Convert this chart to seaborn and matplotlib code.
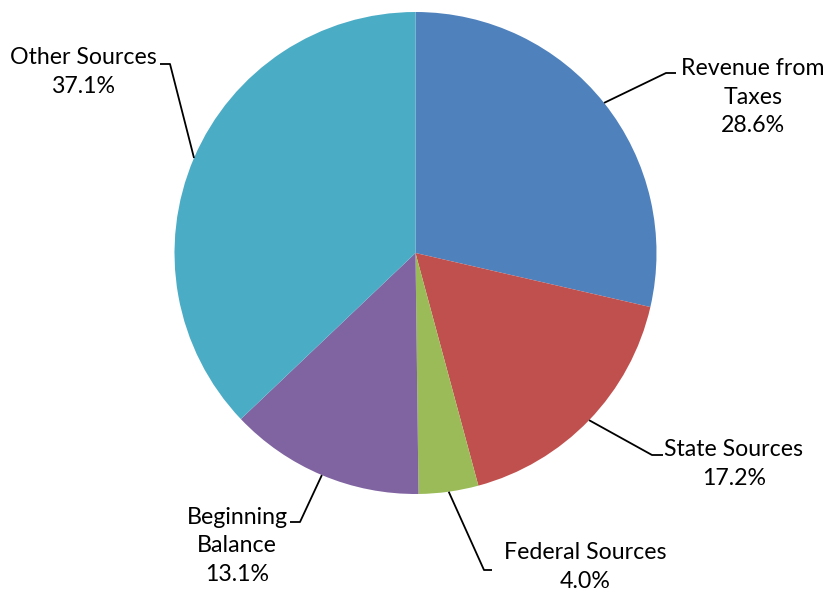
import numpy as np
import matplotlib
matplotlib.use("Agg")
import matplotlib.pyplot as plt
import seaborn as sns

# Revenue sources (percent of total)
categories = ["Revenue from\nTaxes", "State Sources", "Federal Sources",
              "Beginning\nBalance", "Other Sources"]
shares = [28.6, 17.2, 4.0, 13.1, 37.1]
colors = ["#4F81BD", "#C0504D", "#9BBB59", "#8064A2", "#4BACC6"]

sns.set_theme(style="white")
plt.rcParams["font.family"] = ["Lato", "DejaVu Sans"]

W, H = 824, 592
fig = plt.figure(figsize=(W / 100, H / 100), dpi=100)
ax = fig.add_axes([0, 0, 1, 1])

cx, cy, R = 415.5, H - 253, 241
wedges, _ = ax.pie(shares, colors=colors, startangle=90, counterclock=False,
                   center=(cx, cy), radius=R, frame=True,
                   wedgeprops=dict(linewidth=0))
ax.set_xlim(0, W)
ax.set_ylim(0, H)
ax.set_aspect("equal")
ax.axis("off")

# label placement: (elbow point, end of horizontal tick, text centre)
layout = [
    ((666, 73), (676, 73), (753, 97)),
    ((652, 455), (663, 455), (734, 464)),
    ((484, 570), (492, 570), (585, 567)),
    ((300, 522), (290, 522), (237, 546)),
    ((170, 64), (160, 64), (83, 72)),
]

for w, lab, val, (elbow, end, txt) in zip(wedges, categories, shares, layout):
    mid = np.deg2rad((w.theta1 + w.theta2) / 2)
    x0, y0 = cx + R * np.cos(mid), cy + R * np.sin(mid)
    xs = [x0, elbow[0], end[0]]
    ys = [y0, H - elbow[1], H - end[1]]
    ax.plot(xs, ys, color="black", lw=1.3, solid_capstyle="butt")
    ax.text(txt[0], H - txt[1], f"{lab}\n{val:.1f}%", ha="center", va="center",
            fontsize=16.7, color="black", linespacing=1.45)

fig.savefig("out.png", dpi=100)
